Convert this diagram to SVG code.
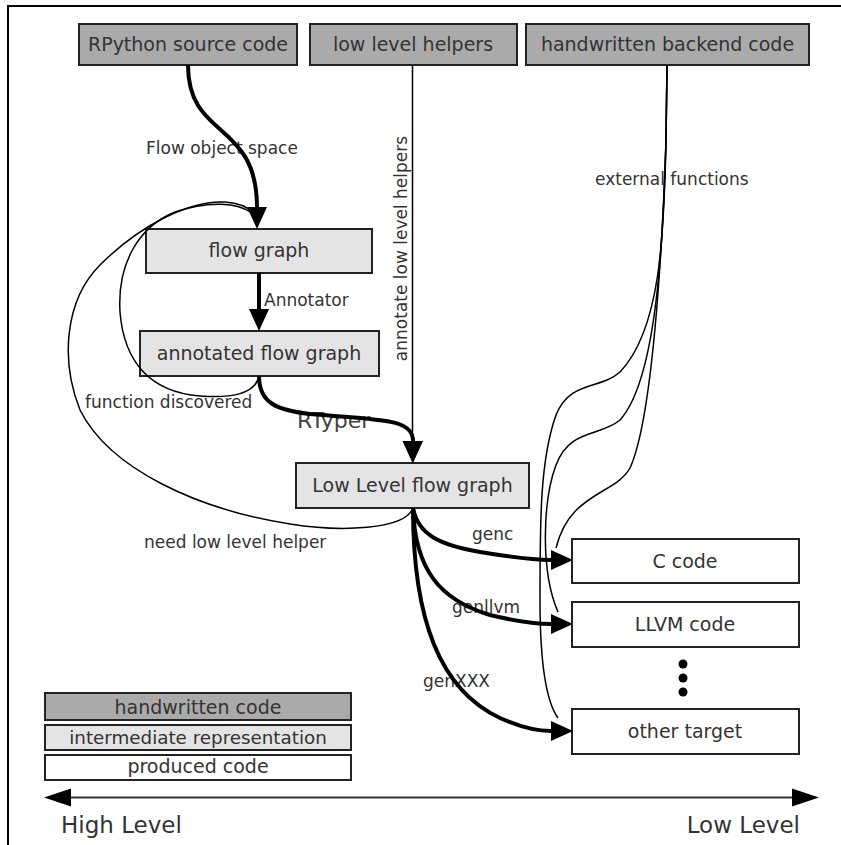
<svg xmlns="http://www.w3.org/2000/svg" width="841" height="845" viewBox="0 0 841 845">
<style>
.node rect{stroke:#222;stroke-width:2}
.hand{fill:#aaaaaa}
.ir{fill:#e4e4e4}
.prod{fill:#ffffff}
text{font-family:"DejaVu Sans","Liberation Sans",sans-serif;fill:#333}
.nt{font-size:19px;text-anchor:middle}
.lbl{font-size:17px}
.thick{fill:none;stroke:#000;stroke-width:4}
.thin{fill:none;stroke:#000;stroke-width:1.5}
</style>
<defs>
<marker id="ah" markerUnits="userSpaceOnUse" markerWidth="22" markerHeight="20" refX="0" refY="10" orient="auto" overflow="visible">
<path d="M0,0 L22,10 L0,20 z" fill="#000"/>
</marker>
<marker id="axh" markerUnits="userSpaceOnUse" markerWidth="27" markerHeight="18" refX="0" refY="9" orient="auto-start-reverse" overflow="visible">
<path d="M0,0 L27,9 L0,18 z" fill="#000"/>
</marker>
</defs>
<rect x="0" y="0" width="841" height="845" fill="#fff"/>
<path d="M8,845 V6 H841" fill="none" stroke="#000" stroke-width="2"/>

<g id="rpython" class="node"><rect class="hand" x="79" y="24" width="218" height="41"/><text class="nt" x="188" y="51">RPython source code</text></g>
<g id="llhelpers" class="node"><rect class="hand" x="310" y="24" width="207" height="41"/><text class="nt" x="413" y="51">low level helpers</text></g>
<g id="backend" class="node"><rect class="hand" x="526" y="24" width="283" height="41"/><text class="nt" x="667.5" y="51">handwritten backend code</text></g>
<g id="flowgraph" class="node"><rect class="ir" x="146" y="229" width="226" height="44"/><text class="nt" x="259" y="257">flow graph</text></g>
<g id="annotated" class="node"><rect class="ir" x="140" y="331" width="239" height="45"/><text class="nt" x="259" y="360">annotated flow graph</text></g>
<g id="llgraph" class="node"><rect class="ir" x="296" y="463" width="233" height="45"/><text class="nt" x="412.5" y="492">Low Level flow graph</text></g>
<g id="ccode" class="node"><rect class="prod" x="572" y="539" width="227" height="44"/><text class="nt" x="685" y="568">C code</text></g>
<g id="llvmcode" class="node"><rect class="prod" x="572" y="602" width="227" height="45"/><text class="nt" x="685" y="631">LLVM code</text></g>
<g id="dots"><circle cx="683" cy="664" r="4.5"/><circle cx="683" cy="678" r="4.5"/><circle cx="683" cy="692" r="4.5"/></g>
<g id="othertarget" class="node"><rect class="prod" x="572" y="709" width="227" height="45"/><text class="nt" x="685" y="738">other target</text></g>

<g id="legend" class="node">
<rect class="hand" x="45" y="693" width="306" height="27"/><text class="nt" x="198" y="714">handwritten code</text>
<rect class="ir" x="45" y="725" width="306" height="25"/><text class="nt" x="198" y="744" style="font-size:18.3px">intermediate representation</text>
<rect class="prod" x="45" y="755" width="306" height="25"/><text class="nt" x="198" y="773">produced code</text>
</g>

<g id="axis">
<path d="M71,797.5 H792" fill="none" stroke="#333" stroke-width="2" marker-start="url(#axh)" marker-end="url(#axh)"/>
<text x="61" y="833" style="font-size:23px">High Level</text>
<text x="800" y="833" style="font-size:23px;text-anchor:end">Low Level</text>
</g>

<g id="labels">
<text class="lbl" x="146" y="154">Flow object space</text>
<text class="lbl" x="264" y="306">Annotator</text>
<text class="lbl" x="85" y="408">function discovered</text>
<text x="297" y="428" style="font-size:22px;fill:#444">RTyper</text>
<text class="lbl" x="144" y="548">need low level helper</text>
<text class="lbl" transform="translate(407,248.5) rotate(-90)" style="text-anchor:middle">annotate low level helpers</text>
<text class="lbl" x="595" y="185">external functions</text>
<text class="lbl" x="472" y="540">genc</text>
<text class="lbl" x="452" y="613">genllvm</text>
<text class="lbl" x="423" y="687">genXXX</text>
</g>

<g id="connectors">
<path class="thick" d="M188,65 C188,140 257,120 257,207" marker-end="url(#ah)"/>
<path class="thick" d="M259,273 V309" marker-end="url(#ah)"/>
<path class="thick" d="M259,376 C259,402 275,410 310,414 C380,420 413,418 413,441" marker-end="url(#ah)"/>
<path class="thin" d="M412.5,65 V441" marker-end="url(#ah)"/>
<path class="thin" d="M259,376 C255,395 230,398 200,396 C150,392 124,362 120,312 C117,262 140,226 175,212 C210,200 238,203 252,213"/>
<path class="thin" d="M413,508 C405,530 340,532 290,524 C200,510 110,470 80,410 C60,360 65,300 100,265 C140,225 190,200 225,202 C240,203 248,207 254,213"/>
<path class="thin" d="M667,65 L666,140 C662,260 652,420 630,468 C615,495 570,492 556,548"/>
<path class="thin" d="M667,65 L666,140 C663,250 656,380 620,420 C600,437 570,428 556,465 C543,500 540,570 558,612"/>
<path class="thin" d="M667,65 L666,140 C664,240 660,330 620,372 C600,390 570,380 556,415 C540,460 540,520 540,600 C540,660 545,700 558,718"/>
<path class="thick" d="M413,508 C418,535 440,545 480,552 C510,557 530,560 551,560" marker-end="url(#ah)"/>
<path class="thick" d="M413,508 C415,570 440,600 490,615 C515,621 535,624 551,624" marker-end="url(#ah)"/>
<path class="thick" d="M413,508 C413,620 440,690 500,718 C520,727 535,731 551,731" marker-end="url(#ah)"/>
</g>
</svg>
